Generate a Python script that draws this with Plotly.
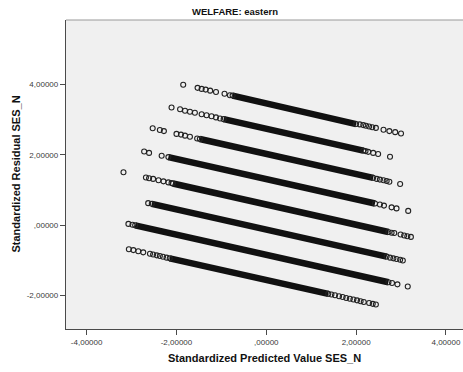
import plotly.graph_objects as go

# Tick positions and their SPSS-style comma-decimal labels
x_tickvals = [-4, -2, 0, 2, 4]
x_ticktext = ["-4,00000", "-2,00000", ",00000", "2,00000", "4,00000"]
y_tickvals = [-2, 0, 2, 4]
y_ticktext = ["-2,00000", ",00000", "2,00000", "4,00000"]

# Dense run of overlapping points for each of the 8 SES_N levels
# (standardized predicted value, standardized residual) at both ends of the run
dense_pred_start = [-0.75, -0.95, -1.48, -2.18, -2.08, -2.55, -2.92, -2.15]
dense_resid_start = [3.69, 3.02, 2.455, 1.94, 1.19, 0.61, 0.00, -0.94]
dense_pred_end = [2.00, 2.16, 2.38, 2.42, 2.72, 2.68, 2.72, 1.38]
dense_resid_end = [2.88, 2.125, 1.35, 0.62, -0.19, -0.89, -1.62, -1.95]

# Individually visible cases at the tails of each level
tail_pred = [
    [-1.85, -1.53, -1.44, -1.35, -1.25, -1.12, -0.93, -0.81,
     2.08, 2.16, 2.22, 2.29, 2.36, 2.44, 2.61, 2.74, 2.87, 3.00],
    [-2.11, -1.92, -1.81, -1.70, -1.59, -1.44, -1.33, -1.22, -1.12, -1.03,
     2.21, 2.27, 2.38, 2.49, 2.755],
    [-2.53, -2.37, -2.28, -2.00, -1.90, -1.81, -1.70, -1.54,
     2.46, 2.53, 2.61, 2.68, 2.74, 2.98],
    [-2.72, -2.61, -2.33,
     2.53, 2.62, 2.79, 2.90, 3.16],
    [-3.18, -2.68, -2.61, -2.52, -2.40, -2.29, -2.18, -2.11,
     2.79, 2.85, 2.99, 3.07, 3.14, 3.22],
    [-2.63,
     2.755, 2.83, 2.90, 2.98, 3.04],
    [-3.07, -2.98,
     2.80, 2.92, 3.15],
    [-3.06, -2.96, -2.85, -2.74, -2.59, -2.52, -2.44, -2.37, -2.30, -2.22,
     1.45, 1.53, 1.62, 1.70, 1.78, 1.86, 1.94, 2.02, 2.10, 2.17, 2.29, 2.37, 2.44],
]
tail_resid = [
    [4.00, 3.91, 3.88, 3.86, 3.83, 3.79, 3.74, 3.70,
     2.87, 2.85, 2.83, 2.81, 2.79, 2.77, 2.72, 2.68, 2.65, 2.61],
    [3.35, 3.30, 3.26, 3.23, 3.20, 3.16, 3.13, 3.10, 3.07, 3.04,
     2.11, 2.09, 2.06, 2.03, 1.95],
    [2.76, 2.71, 2.68, 2.60, 2.58, 2.55, 2.52, 2.47,
     1.32, 1.30, 1.28, 1.26, 1.24, 1.175],
    [2.10, 2.06, 1.98,
     0.59, 0.56, 0.51, 0.48, 0.41],
    [1.51, 1.36, 1.34, 1.32, 1.28, 1.25, 1.22, 1.20,
     -0.21, -0.22, -0.26, -0.29, -0.31, -0.33],
    [0.63,
     -0.92, -0.94, -0.96, -0.98, -1.00],
    [0.04, 0.015,
     -1.64, -1.68, -1.74],
    [-0.68, -0.705, -0.74, -0.77, -0.81, -0.83, -0.855, -0.875, -0.895, -0.92,
     -1.97, -1.99, -2.02, -2.04, -2.07, -2.09, -2.11, -2.135, -2.16, -2.18,
     -2.21, -2.235, -2.255],
]

FONT = "Liberation Sans, Arial, sans-serif"
circle_marker = dict(symbol="circle-open", size=5, color="#222222",
                     line=dict(width=1.1, color="#222222"))

fig = go.Figure()

# Dense runs: one thick segment per level, separated by None,
# with the end cases of each run drawn as circles
seg_x, seg_y = [], []
for x0, y0, x1, y1 in zip(dense_pred_start, dense_resid_start,
                          dense_pred_end, dense_resid_end):
    seg_x += [x0, x1, None]
    seg_y += [y0, y1, None]
fig.add_trace(go.Scatter(
    x=seg_x, y=seg_y, mode="lines+markers",
    line=dict(color="#111111", width=6.5),
    marker=circle_marker,
    hoverinfo="skip", showlegend=False,
))

# Hollow circles for the individually visible cases
pts_x = [v for band in tail_pred for v in band]
pts_y = [v for band in tail_resid for v in band]
fig.add_trace(go.Scatter(
    x=pts_x, y=pts_y, mode="markers",
    marker=circle_marker,
    showlegend=False,
))

axis_common = dict(
    showgrid=False, zeroline=False,
    showline=True, linecolor="#4a4a4a", linewidth=1.3,
    ticks="outside", ticklen=5, tickwidth=1, tickcolor="#4a4a4a",
    tickfont=dict(family=FONT, size=8, color="#3a3a3a"),
)

fig.update_layout(
    width=463, height=372,
    margin=dict(l=66, r=0, t=20, b=43),
    paper_bgcolor="white",
    plot_bgcolor="#f0f0f0",
    xaxis=dict(range=[-4.46, 4.38], tickvals=x_tickvals, ticktext=x_ticktext,
               **axis_common),
    yaxis=dict(range=[-2.95, 5.84], tickvals=y_tickvals, ticktext=y_ticktext,
               **axis_common),
    shapes=[dict(type="line", xref="paper", yref="paper",
                 x0=0, x1=1, y0=1, y1=1,
                 line=dict(color="#999999", width=1))],
    annotations=[
        dict(text="<b>WELFARE: eastern</b>", xref="paper", yref="paper",
             x=0.426, y=1, yshift=9, yanchor="middle", xanchor="center",
             showarrow=False, font=dict(family=FONT, size=9.5, color="#111111")),
        dict(text="<b>Standardized Predicted Value SES_N</b>", xref="paper",
             yref="paper", x=0.5, y=0, yshift=-29, yanchor="middle",
             xanchor="center", showarrow=False,
             font=dict(family=FONT, size=11, color="#111111")),
        dict(text="<b>Standardized Residual SES_N</b>", xref="paper",
             yref="paper", x=0, xshift=-51, y=0.5, xanchor="center",
             yanchor="middle", textangle=-90, showarrow=False,
             font=dict(family=FONT, size=11, color="#111111")),
    ],
)

fig.write_html("out.html")
